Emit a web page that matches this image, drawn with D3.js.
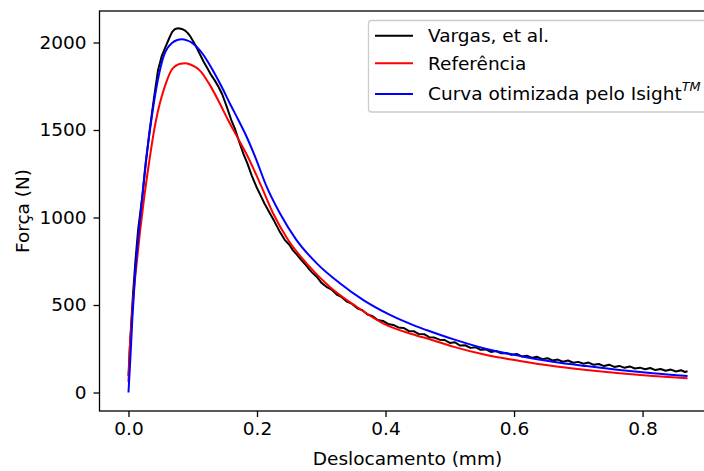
<!DOCTYPE html>
<html>
<head>
<meta charset="utf-8">
<script src="https://cdn.jsdelivr.net/npm/d3@7"></script>
<style>
  html, body { margin: 0; padding: 0; background: #fff; }
  svg { display: block; font-family: "DejaVu Sans", sans-serif; }
</style>
</head>
<body>
<svg id="chart" width="704" height="471"></svg>
<script>
// Força x deslocamento — experimental curve (Vargas, et al.), reference and optimized fit
const vargasX = [0.000, 0.002, 0.004, 0.007, 0.011, 0.015, 0.0215, 0.027, 0.033, 0.040, 0.046, 0.052, 0.058, 0.064, 0.068, 0.072, 0.076, 0.080, 0.084, 0.088, 0.092, 0.096, 0.100, 0.105, 0.111, 0.117, 0.123, 0.129, 0.134, 0.140, 0.146, 0.153, 0.160, 0.166, 0.172, 0.1785, 0.185, 0.192, 0.199, 0.205, 0.212, 0.220, 0.227, 0.235, 0.2434, 0.250, 0.256, 0.262, 0.269, 0.275, 0.281, 0.287, 0.293, 0.300, 0.308, 0.316, 0.324, 0.332, 0.340, 0.348, 0.356, 0.364, 0.372, 0.380, 0.388, 0.396, 0.404, 0.412, 0.420, 0.428, 0.436, 0.444, 0.452, 0.460, 0.468, 0.476, 0.484, 0.492, 0.500, 0.508, 0.516, 0.524, 0.532, 0.540, 0.548, 0.556, 0.564, 0.572, 0.580, 0.588, 0.596, 0.604, 0.612, 0.620, 0.628, 0.636, 0.644, 0.652, 0.660, 0.668, 0.676, 0.684, 0.692, 0.700, 0.708, 0.716, 0.724, 0.732, 0.740, 0.748, 0.756, 0.764, 0.772, 0.780, 0.788, 0.796, 0.804, 0.812, 0.820, 0.828, 0.836, 0.844, 0.852, 0.860, 0.866, 0.870];
const vargasF = [95, 250, 380, 560, 760, 930, 1119, 1310, 1500, 1690, 1843, 1925, 1978, 2030, 2061, 2076, 2081, 2080, 2076, 2068, 2055, 2036, 2012, 1978, 1934, 1890, 1852, 1812, 1785, 1747, 1703, 1632, 1557, 1503, 1436, 1367, 1309, 1238, 1176, 1131, 1077, 1024, 978, 922, 871, 846, 812, 788, 757, 733, 705, 681, 662, 628, 604, 588, 560, 545, 519, 506, 481, 470, 446, 436, 414, 409, 392, 386, 372, 369, 352, 350, 334, 333, 316, 314, 302, 300, 283, 287, 268, 270, 255, 259, 244, 246, 232, 237, 224, 226, 215, 220, 206, 210, 198, 204, 190, 196, 183, 188, 176, 183, 170, 175, 164, 171, 158, 163, 151, 159, 146, 152, 141, 149, 137, 142, 133, 140, 128, 134, 124, 131, 120, 127, 117, 121];

const refX = [0.000, 0.002, 0.004, 0.007, 0.0127, 0.018, 0.0246, 0.0319, 0.040, 0.046, 0.0516, 0.059, 0.067, 0.074, 0.081, 0.088, 0.095, 0.102, 0.108, 0.114, 0.120, 0.127, 0.141, 0.155, 0.170, 0.184, 0.207, 0.225, 0.2485, 0.277, 0.313, 0.355, 0.396, 0.448, 0.469, 0.505, 0.557, 0.609, 0.6605, 0.7125, 0.764, 0.816, 0.870];
const refF = [60, 250, 360, 520, 738, 920, 1119, 1310, 1500, 1610, 1690, 1775, 1843, 1868, 1879, 1881, 1876, 1864, 1850, 1828, 1796, 1755, 1660, 1557, 1455, 1360, 1176, 1024, 871, 738, 605, 490, 395, 326, 304, 262, 214, 180, 151, 129, 110, 94, 81];

const isightX = [0.000, 0.003, 0.006, 0.010, 0.015, 0.0215, 0.0267, 0.0334, 0.041, 0.049, 0.055, 0.061, 0.067, 0.075, 0.083, 0.091, 0.099, 0.107, 0.115, 0.123, 0.131, 0.145, 0.158, 0.171, 0.184, 0.197, 0.215, 0.2356, 0.2615, 0.293, 0.329, 0.365, 0.407, 0.448, 0.469, 0.505, 0.557, 0.609, 0.6605, 0.7125, 0.764, 0.816, 0.870];
const isightF = [0, 200, 420, 660, 880, 1119, 1310, 1500, 1690, 1843, 1925, 1970, 1995, 2013, 2018, 2012, 1998, 1972, 1937, 1893, 1843, 1747, 1650, 1557, 1460, 1348, 1176, 1024, 871, 738, 624, 529, 443, 378, 350, 305, 249, 209, 176, 151, 129, 110, 94];

const xTicks = [0.0, 0.2, 0.4, 0.6, 0.8];
const yTicks = [0, 500, 1000, 1500, 2000];

const seriesNames = ["Vargas, et al.", "Referência", "Curva otimizada pelo Isight"];
const seriesColors = ["#000000", "#ff0000", "#0000ff"];

const series = [
  { name: seriesNames[0], color: seriesColors[0], x: vargasX, y: vargasF, curve: d3.curveLinear },
  { name: seriesNames[1], color: seriesColors[1], x: refX, y: refF, curve: d3.curveMonotoneX },
  { name: seriesNames[2], color: seriesColors[2], x: isightX, y: isightF, curve: d3.curveMonotoneX }
];

const FONT = "18.5px";
const svg = d3.select("#chart");
const plotL = 99.5, plotR = 715.5, plotT = 11, plotB = 411;

const x = d3.scaleLinear().domain([-0.0451, 0.9135]).range([plotL, plotR]);
const y = d3.scaleLinear().domain([-105.7, 2180]).range([plotB, plotT]);

// data lines
series.forEach(s => {
  const pts = s.x.map((v, i) => [v, s.y[i]]);
  svg.append("path")
    .datum(pts)
    .attr("fill", "none")
    .attr("stroke", s.color)
    .attr("stroke-width", 2)
    .attr("stroke-linejoin", "round")
    .attr("d", d3.line().x(d => x(d[0])).y(d => y(d[1])).curve(s.curve));
});

// axes frame
svg.append("rect")
  .attr("x", plotL).attr("y", plotT)
  .attr("width", plotR - plotL).attr("height", plotB - plotT)
  .attr("fill", "none").attr("stroke", "#000").attr("stroke-width", 1.3);

const xAxis = svg.append("g")
  .attr("transform", `translate(0,${plotB})`)
  .call(d3.axisBottom(x).tickValues(xTicks).tickFormat(d3.format(".1f")).tickSize(6).tickSizeOuter(0).tickPadding(5));
const yAxis = svg.append("g")
  .attr("transform", `translate(${plotL},0)`)
  .call(d3.axisLeft(y).tickValues(yTicks).tickFormat(d3.format("d")).tickSize(6).tickSizeOuter(0).tickPadding(7));

[xAxis, yAxis].forEach(g => {
  g.select(".domain").remove();
  g.selectAll(".tick line").attr("stroke", "#000").attr("stroke-width", 1.3);
  g.selectAll(".tick text")
    .attr("fill", "#000")
    .style("font-family", "'DejaVu Sans', sans-serif")
    .style("font-size", FONT);
});

// axis titles
svg.append("text")
  .attr("x", (plotL + plotR) / 2).attr("y", 465)
  .attr("text-anchor", "middle")
  .style("font-size", FONT)
  .text("Deslocamento (mm)");

svg.append("text")
  .attr("transform", `translate(28.5,${(plotT + plotB) / 2}) rotate(-90)`)
  .attr("text-anchor", "middle")
  .style("font-size", FONT)
  .text("Força (N)");

// legend
const legend = svg.append("g");
legend.append("rect")
  .attr("x", 368.5).attr("y", 20.5)
  .attr("width", 340).attr("height", 91.5)
  .attr("rx", 3)
  .attr("fill", "#fff").attr("fill-opacity", 0.8)
  .attr("stroke", "#cccccc").attr("stroke-width", 1.3);

const rowY = [35.7, 63.3, 94];
series.forEach((s, i) => {
  legend.append("line")
    .attr("x1", 375).attr("x2", 413)
    .attr("y1", rowY[i]).attr("y2", rowY[i])
    .attr("stroke", s.color).attr("stroke-width", 2);
  const t = legend.append("text")
    .attr("x", 428).attr("y", rowY[i] + 6.3)
    .style("font-size", FONT)
    .text(s.name);
  if (i === 2) {
    t.append("tspan")
      .attr("dy", -9)
      .style("font-size", "12.8px")
      .style("font-style", "italic")
      .text("TM");
  }
});
</script>
</body>
</html>
